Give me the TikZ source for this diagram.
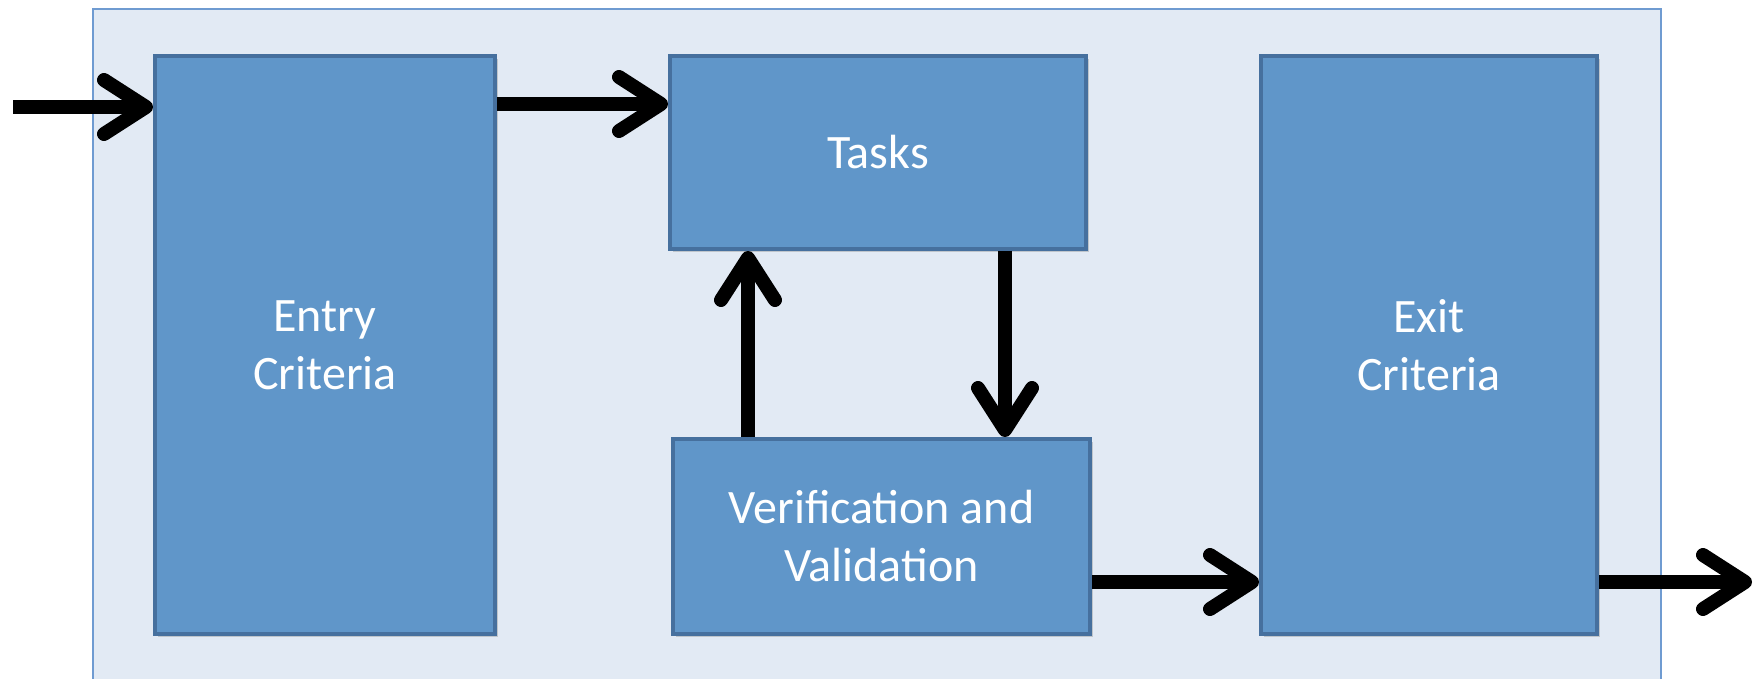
\documentclass[tikz,border=0pt]{standalone}
\usepackage{fontspec}
\setmainfont{Carlito}
\usetikzlibrary{arrows.meta,shadows}

\definecolor{panelfill}{HTML}{E2EAF4}
\definecolor{panelline}{HTML}{6F9BD1}
\definecolor{boxfill}{HTML}{6096C9}
\definecolor{boxline}{HTML}{46709E}

\tikzset{
  stagebox/.style={draw=boxline, line width=2pt, fill=boxfill, text=white,
    align=center, inner sep=0pt, font=\fontsize{24}{29}\selectfont,
    drop shadow={shadow xshift=1.5pt, shadow yshift=-1.5pt, opacity=0.35}},
  flow/.style={line width=7pt, -{Straight Barb[length=21pt, width=27pt, line cap=round, line join=round]}}
}

\begin{document}
\begin{tikzpicture}[x=0.5pt, y=-0.5pt]
        \clip (0,0) rectangle (1756,679);

        % Pannello di sfondo
        \draw[panelline, fill=panelfill, line width=0.75pt] (93,9) rectangle (1661,720);

        % Fasi
        \node[stagebox, minimum width=170pt, minimum height=289pt] (entry) at (325,345) {Entry\\Criteria};
        \node[stagebox, minimum width=208pt, minimum height=96.5pt] (tasks) at (878,152.5) {Tasks};
        \node[stagebox, minimum width=208.5pt, minimum height=97.5pt] (verif) at (881.5,536.5) {Verification and\\Validation};
        \node[stagebox, minimum width=168pt, minimum height=289pt] (exit) at (1429,345) {Exit\\Criteria};

        % Estremi liberi
        \coordinate (in) at (13,107);
        \coordinate (out) at (1752,582);
        \coordinate (top) at (0,104);
        \coordinate (up) at (748,0);
        \coordinate (down) at (1005,0);

        % Frecce
        \draw[flow] (in) -- (entry.west |- in);
        \draw[flow] (entry.east |- top) -- (tasks.west |- top);
        \draw[flow] (verif.north -| up) -- (tasks.south -| up);
        \draw[flow] (tasks.south -| down) -- (verif.north -| down);
        \draw[flow] (verif.east |- out) -- (exit.west |- out);
        \draw[flow] (exit.east |- out) -- (out);
    \end{tikzpicture}
\end{document}
